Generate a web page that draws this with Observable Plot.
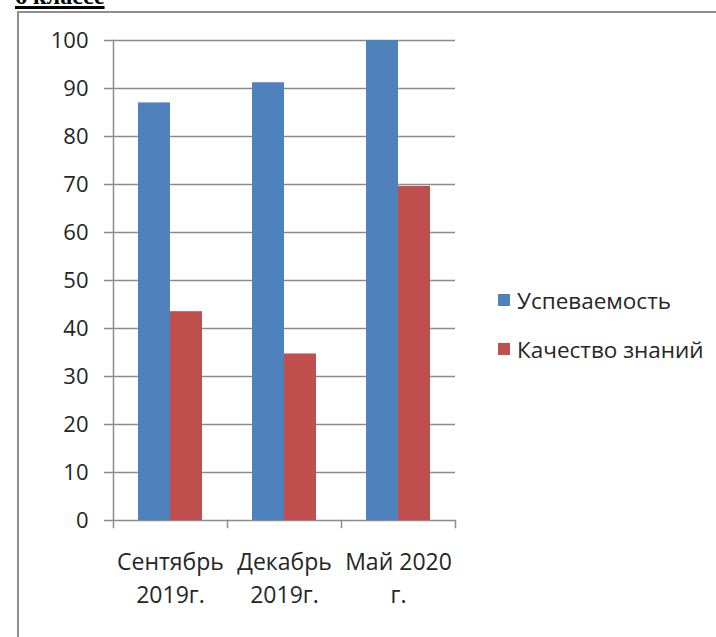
<!DOCTYPE html>
<html>
<head>
<meta charset="utf-8">
<script src="https://cdn.jsdelivr.net/npm/d3@7"></script>
<script src="https://cdn.jsdelivr.net/npm/@observablehq/plot@0.6"></script>
<style>
  html, body { margin: 0; padding: 0; background: #fff; }
  #wrap { position: relative; width: 716px; height: 637px; overflow: hidden; background: #fff; }
  #title { position: absolute; left: 15px; top: -17px; line-height: 24px; font: bold 24px "Liberation Serif", "Times New Roman", serif; text-decoration: underline; text-decoration-thickness: 3px; color: #000; white-space: nowrap; }
  #border { position: absolute; left: 17px; top: 11px; width: 900px; height: 900px; border-left: 2px solid #8f8f8f; border-top: 2px solid #8f8f8f; }
  #chart { position: absolute; left: 0; top: 0; }
  .legend { position: absolute; left: 498px; font: 22.5px "Open Sans", "DejaVu Sans", sans-serif; color: #262626; }
  .legend .item { position: absolute; left: 0; white-space: nowrap; display: flex; align-items: center; height: 30px; }
  .legend .sw { width: 12px; height: 12px; margin-right: 7px; display: inline-block; }
</style>
</head>
<body>
<div id="wrap">
  <div id="title">6 классе</div>
  <div id="border"></div>
  <div id="chart"></div>
  <div class="legend" id="legend"></div>
</div>
<script>
const months = ["Сентябрь 2019г.", "Декабрь 2019г.", "Май 2020 г."];
const monthLabels = ["Сентябрь\n2019г.", "Декабрь\n2019г.", "Май 2020\nг."];
const series = ["Успеваемость", "Качество знаний"];
const uspevaemost = [87, 91.2, 100];
const kachestvo = [43.5, 34.7, 69.6];
const colors = ["#4F81BD", "#C0504D"];
const yTicks = [0, 10, 20, 30, 40, 50, 60, 70, 80, 90, 100];

const data = months.flatMap((m, i) => [
  {month: m, series: series[0], value: uspevaemost[i]},
  {month: m, series: series[1], value: kachestvo[i]}
]);

const W = 716, H = 637, mL = 112, mR = 261, mT = 40, mB = 117;
const gray = "#8c8c8c";

const chart = Plot.plot({
  width: W, height: H,
  marginLeft: mL, marginRight: mR, marginTop: mT, marginBottom: mB,
  fx: {domain: months, padding: 0, label: null},
  x: {domain: series, paddingInner: 0, paddingOuter: 0.76, axis: null},
  y: {domain: [0, 100], label: null},
  color: {domain: series, range: colors},
  style: {fontFamily: "'Open Sans', 'DejaVu Sans', sans-serif", fontSize: "22px", color: "#262626", background: "transparent", overflow: "visible"},
  marks: [
    Plot.gridY(yTicks, {stroke: gray, strokeOpacity: 1, strokeWidth: 1.5}),
    Plot.axisY(yTicks, {tickSize: 9, tickPadding: 16, stroke: gray, strokeWidth: 1.5, label: null}),
    Plot.barY(data, {fx: "month", x: "series", y: "value", fill: "series"}),
    Plot.frame({anchor: "left", facetAnchor: "left", stroke: gray, strokeWidth: 1.5, insetBottom: -7}),
    Plot.frame({anchor: "right", stroke: gray, strokeWidth: 1.5, insetTop: H - mT - mB, insetBottom: -7}),
    Plot.axisFx({anchor: "bottom", tickSize: 0, tickPadding: 27, lineHeight: 1.4, fontSize: 23, label: null,
      tickFormat: d => monthLabels[months.indexOf(d)]})
  ]
});
document.getElementById("chart").appendChild(chart);

const legend = document.getElementById("legend");
const legendTops = [285, 334];
series.forEach((s, i) => {
  const item = document.createElement("div");
  item.className = "item";
  item.style.top = legendTops[i] + "px";
  item.innerHTML = `<span class="sw" style="background:${colors[i]}"></span><span>${s}</span>`;
  legend.appendChild(item);
});
</script>
</body>
</html>
